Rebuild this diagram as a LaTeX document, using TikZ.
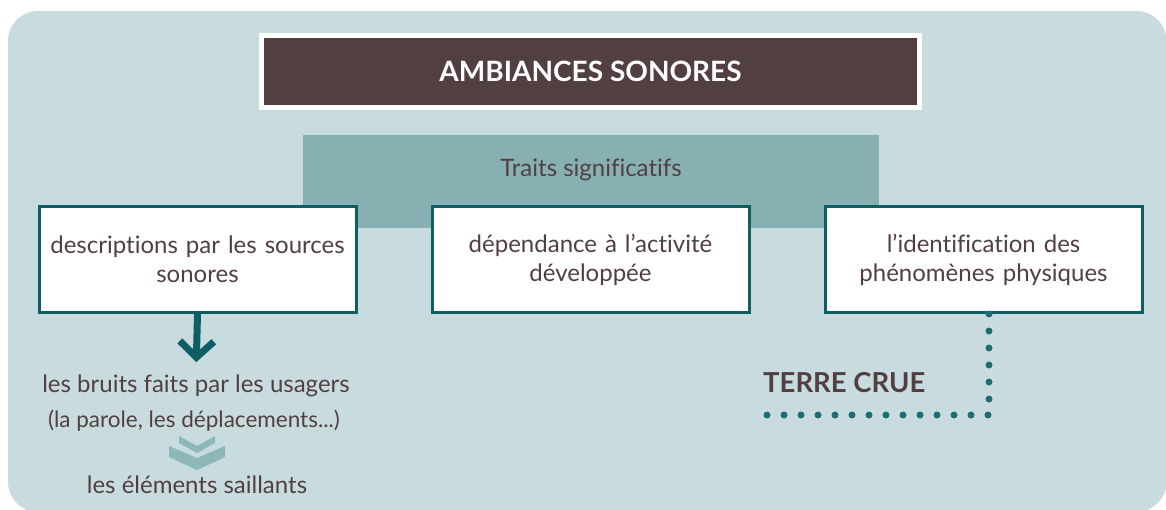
\documentclass[tikz,border=0pt]{standalone}
\usepackage{fontspec}
\setmainfont{Lato}[Ligatures=NoCommon]
\usetikzlibrary{arrows.meta,positioning}
\definecolor{SonPanel}{HTML}{C8DCDF}
\definecolor{SonBand}{HTML}{86B0B2}
\definecolor{SonTeal}{HTML}{0E5F64}
\definecolor{SonDots}{HTML}{1D6E73}
\definecolor{SonBrown}{HTML}{523F41}
\definecolor{SonChevron}{HTML}{8EB7B9}

\begin{document}
\begin{tikzpicture}[x=1pt,y=-1pt,
  panel/.style={fill=SonPanel,rounded corners=30pt},
  titlebox/.style={fill=SonBrown,draw=white,line width=5pt,minimum width=658pt,minimum height=72pt,text=white,font=\bfseries\fontsize{28}{32}\selectfont},
  band/.style={fill=SonBand,minimum width=576pt,inner xsep=0pt,inner ysep=0pt,text height=41pt,text depth=52pt,text=SonBrown,font=\fontsize{24}{28}\selectfont},
  card/.style={draw=SonTeal,line width=3pt,fill=white,minimum width=317pt,minimum height=106pt,text width=310pt,align=center,text=SonBrown,font=\fontsize{24}{29}\selectfont},
  note/.style={inner sep=0pt,text=SonBrown,font=\fontsize{24}{28}\selectfont},
  tag/.style={inner sep=0pt,text=SonBrown,font=\bfseries\fontsize{27.5}{32}\selectfont},
  downarrow/.style={draw=SonTeal,line width=7pt,-{Straight Barb[sharp,length=16pt,width=34pt]}},
  dotline/.style={draw=SonDots,line width=7pt,line cap=round,dash pattern=on 0pt off 17pt},
  chevron/.style={fill=SonChevron}
]
\useasboundingbox (0,0) rectangle (1166,510);
\fill[panel] (8,11) rectangle (1166.5,512);

\node[titlebox] (title) at (590.5,71.5) {AMBIANCES SONORES};
\node[band,anchor=north] (traits) at (591,135) {Traits significatifs};

% the three cards
\node[card] (actbox) at (590.5,259.5) {dépendance à l’activité\\développée};
\node[card,left=73pt of actbox] (srcbox) {descriptions par les sources\\sonores};
\node[card,right=73pt of actbox] (physbox) {l’identification des\\phénomènes physiques};

\node[note,anchor=base] (usagers) at (196,392) {les bruits faits par les usagers};
\node[note,anchor=base,font=\fontsize{22.5}{26}\selectfont] (parole) at (194,427) {(la parole, les déplacements...)};
\node[note,anchor=base] (saillants) at (197,493) {les éléments saillants};
\node[tag,anchor=base west] (terre) at (763,392) {TERRE CRUE};
\coordinate (dotend) at (765,415);

\draw[downarrow,shorten >=12pt] (srcbox.south) -- (usagers.north);
\fill[chevron] (179,436) -- (197,446) -- (215,436) -- (215,443) -- (197,453) -- (179,443) -- cycle;
\fill[chevron] (169,446) -- (197,458) -- (225,446) -- (225,457) -- (197,470) -- (169,457) -- cycle;
\draw[dotline] ([xshift=5.5pt]physbox.south) |- (dotend);
\end{tikzpicture}
\end{document}
